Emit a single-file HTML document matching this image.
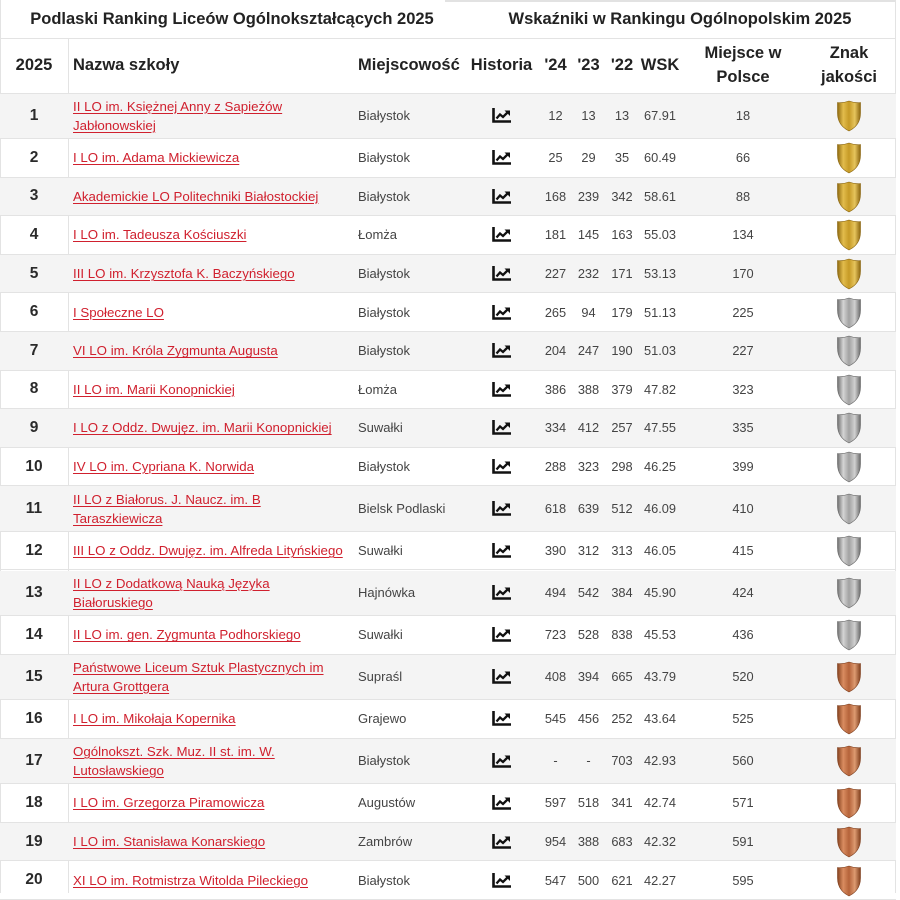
<!DOCTYPE html>
<html lang="pl">
<head>
<meta charset="utf-8">
<style>
  html,body{margin:0;padding:0;background:#fff;}
  body{width:900px;height:893px;position:relative;overflow:hidden;font-family:"Liberation Sans",Arial,sans-serif;color:#333;}
  .t{position:absolute;top:0;height:38px;display:flex;align-items:center;justify-content:center;font-weight:bold;font-size:16.5px;color:#222;white-space:nowrap;}
  .line-h{position:absolute;left:0;width:896px;height:1px;background:#e3e3e3;}
  .line-v{position:absolute;width:1px;background:#e3e3e3;}
  .r{position:absolute;left:0;width:896px;box-sizing:border-box;border-bottom:1px solid #e3e3e3;}
  .r.o{background:#f4f4f4;}
  .c{position:absolute;top:0;bottom:0;display:flex;align-items:center;justify-content:center;white-space:nowrap;}
  .rk{left:0;width:68px;font-weight:bold;font-size:15.5px;color:#2a2a2a;}
  .nm{left:73px;width:280px;justify-content:flex-start;font-size:13.3px;line-height:19px;}
  .nm span{color:#d0202e;text-decoration:underline;text-decoration-thickness:1px;text-underline-offset:2px;}
  .ct{left:358px;width:100px;justify-content:flex-start;font-size:13px;color:#444;}
  .hi{left:462px;width:79px;}
  .n{font-size:12.8px;color:#444;}
  .c24{left:540px;width:31px;}
  .c23{left:571px;width:35px;}
  .c22{left:606px;width:32px;}
  .wsk{left:638px;width:44px;}
  .pl{left:682px;width:122px;}
  .zn{left:804px;width:90px;}
  .hd{font-weight:bold;font-size:16.5px;color:#222;text-align:center;line-height:24px;}
</style>
</head>
<body>
<svg width="0" height="0" style="position:absolute">
  <defs>
    <linearGradient id="gg" x1="0" y1="0" x2="1" y2="0">
      <stop offset="0" stop-color="#8f6a10"/>
      <stop offset="0.25" stop-color="#e2bc4c"/>
      <stop offset="0.5" stop-color="#c69a26"/>
      <stop offset="0.75" stop-color="#e6c45c"/>
      <stop offset="1" stop-color="#8a650f"/>
    </linearGradient>
    <linearGradient id="gs" x1="0" y1="0" x2="1" y2="0">
      <stop offset="0" stop-color="#6e6e6e"/>
      <stop offset="0.25" stop-color="#d4d4d4"/>
      <stop offset="0.5" stop-color="#a2a2a2"/>
      <stop offset="0.75" stop-color="#d0d0d0"/>
      <stop offset="1" stop-color="#696969"/>
    </linearGradient>
    <linearGradient id="gb" x1="0" y1="0" x2="1" y2="0">
      <stop offset="0" stop-color="#86421f"/>
      <stop offset="0.25" stop-color="#d98c60"/>
      <stop offset="0.5" stop-color="#b5633a"/>
      <stop offset="0.75" stop-color="#dd9a70"/>
      <stop offset="1" stop-color="#7f3f1e"/>
    </linearGradient>
  </defs>
</svg>

<!-- top strip -->
<div style="position:absolute;left:445px;top:0;width:451px;height:2px;background:#e2e2e2;"></div>

<div class="t" style="left:0;width:464px;">Podlaski Ranking Liceów Ogólnokształcących 2025</div>
<div class="t" style="left:464px;width:432px;">Wskaźniki w Rankingu Ogólnopolskim 2025</div>

<!-- frame lines -->
<div class="line-h" style="top:38px;"></div>
<div class="line-v" style="left:0;top:0;height:893px;"></div>
<div class="line-v" style="left:895px;top:0;height:893px;"></div>
<div class="line-v" style="left:68px;top:38px;height:855px;"></div>

<!-- header row -->
<div class="r" style="top:38px;height:55.5px;">
  <div class="c hd" style="left:0;width:68px;">2025</div>
  <div class="c hd" style="left:73px;width:280px;justify-content:flex-start;">Nazwa szkoły</div>
  <div class="c hd" style="left:358px;width:104px;justify-content:flex-start;">Miejscowość</div>
  <div class="c hd hi">Historia</div>
  <div class="c hd c24">'24</div>
  <div class="c hd c23">'23</div>
  <div class="c hd c22">'22</div>
  <div class="c hd wsk">WSK</div>
  <div class="c hd pl">Miejsce w<br>Polsce</div>
  <div class="c hd zn">Znak<br>jakości</div>
</div>

<!-- rows -->
<div class="r o" style="top:93.5px;height:45.5px;">
  <div class="c rk">1</div>
  <div class="c nm"><span>II LO im. Księżnej Anny z Sapieżów<br>Jabłonowskiej</span></div>
  <div class="c ct">Białystok</div>
  <div class="c hi"><svg width="19" height="15" viewBox="0 0 19 15"><path d="M1.5 0V13.5H19" fill="none" stroke="#111" stroke-width="2.6"/><path d="M4.5 10.5L8 6.5l3 2.5 4.5-4.5" fill="none" stroke="#111" stroke-width="2.3"/><path d="M12.5 2.5h5.5v5.5z" fill="#111"/></svg></div>
  <div class="c n c24">12</div><div class="c n c23">13</div><div class="c n c22">13</div><div class="c n wsk">67.91</div>
  <div class="c n pl">18</div>
  <div class="c zn"><svg width="26" height="33" viewBox="0 0 26 33"><path d="M13 2C9 3.5 5 4 1.5 3.5V14C1.5 22.5 6 28.5 13 32C20 28.5 24.5 22.5 24.5 14V3.5C21 4 17 3.5 13 2Z" fill="url(#gg)" stroke="#8a650f" stroke-width="0.6"/></svg></div>
</div>

<div class="r" style="top:139px;height:38.6px;">
  <div class="c rk">2</div>
  <div class="c nm"><span>I LO im. Adama Mickiewicza</span></div>
  <div class="c ct">Białystok</div>
  <div class="c hi"><svg width="19" height="15" viewBox="0 0 19 15"><path d="M1.5 0V13.5H19" fill="none" stroke="#111" stroke-width="2.6"/><path d="M4.5 10.5L8 6.5l3 2.5 4.5-4.5" fill="none" stroke="#111" stroke-width="2.3"/><path d="M12.5 2.5h5.5v5.5z" fill="#111"/></svg></div>
  <div class="c n c24">25</div><div class="c n c23">29</div><div class="c n c22">35</div><div class="c n wsk">60.49</div>
  <div class="c n pl">66</div>
  <div class="c zn"><svg width="26" height="33" viewBox="0 0 26 33"><path d="M13 2C9 3.5 5 4 1.5 3.5V14C1.5 22.5 6 28.5 13 32C20 28.5 24.5 22.5 24.5 14V3.5C21 4 17 3.5 13 2Z" fill="url(#gg)" stroke="#8a650f" stroke-width="0.6"/></svg></div>
</div>

<div class="r o" style="top:177.6px;height:38.6px;">
  <div class="c rk">3</div>
  <div class="c nm"><span>Akademickie LO Politechniki Białostockiej</span></div>
  <div class="c ct">Białystok</div>
  <div class="c hi"><svg width="19" height="15" viewBox="0 0 19 15"><path d="M1.5 0V13.5H19" fill="none" stroke="#111" stroke-width="2.6"/><path d="M4.5 10.5L8 6.5l3 2.5 4.5-4.5" fill="none" stroke="#111" stroke-width="2.3"/><path d="M12.5 2.5h5.5v5.5z" fill="#111"/></svg></div>
  <div class="c n c24">168</div><div class="c n c23">239</div><div class="c n c22">342</div><div class="c n wsk">58.61</div>
  <div class="c n pl">88</div>
  <div class="c zn"><svg width="26" height="33" viewBox="0 0 26 33"><path d="M13 2C9 3.5 5 4 1.5 3.5V14C1.5 22.5 6 28.5 13 32C20 28.5 24.5 22.5 24.5 14V3.5C21 4 17 3.5 13 2Z" fill="url(#gg)" stroke="#8a650f" stroke-width="0.6"/></svg></div>
</div>

<div class="r" style="top:216.2px;height:38.6px;">
  <div class="c rk">4</div>
  <div class="c nm"><span>I LO im. Tadeusza Kościuszki</span></div>
  <div class="c ct">Łomża</div>
  <div class="c hi"><svg width="19" height="15" viewBox="0 0 19 15"><path d="M1.5 0V13.5H19" fill="none" stroke="#111" stroke-width="2.6"/><path d="M4.5 10.5L8 6.5l3 2.5 4.5-4.5" fill="none" stroke="#111" stroke-width="2.3"/><path d="M12.5 2.5h5.5v5.5z" fill="#111"/></svg></div>
  <div class="c n c24">181</div><div class="c n c23">145</div><div class="c n c22">163</div><div class="c n wsk">55.03</div>
  <div class="c n pl">134</div>
  <div class="c zn"><svg width="26" height="33" viewBox="0 0 26 33"><path d="M13 2C9 3.5 5 4 1.5 3.5V14C1.5 22.5 6 28.5 13 32C20 28.5 24.5 22.5 24.5 14V3.5C21 4 17 3.5 13 2Z" fill="url(#gg)" stroke="#8a650f" stroke-width="0.6"/></svg></div>
</div>

<div class="r o" style="top:254.8px;height:38.6px;">
  <div class="c rk">5</div>
  <div class="c nm"><span>III LO im. Krzysztofa K. Baczyńskiego</span></div>
  <div class="c ct">Białystok</div>
  <div class="c hi"><svg width="19" height="15" viewBox="0 0 19 15"><path d="M1.5 0V13.5H19" fill="none" stroke="#111" stroke-width="2.6"/><path d="M4.5 10.5L8 6.5l3 2.5 4.5-4.5" fill="none" stroke="#111" stroke-width="2.3"/><path d="M12.5 2.5h5.5v5.5z" fill="#111"/></svg></div>
  <div class="c n c24">227</div><div class="c n c23">232</div><div class="c n c22">171</div><div class="c n wsk">53.13</div>
  <div class="c n pl">170</div>
  <div class="c zn"><svg width="26" height="33" viewBox="0 0 26 33"><path d="M13 2C9 3.5 5 4 1.5 3.5V14C1.5 22.5 6 28.5 13 32C20 28.5 24.5 22.5 24.5 14V3.5C21 4 17 3.5 13 2Z" fill="url(#gg)" stroke="#8a650f" stroke-width="0.6"/></svg></div>
</div>

<div class="r" style="top:293.4px;height:38.6px;">
  <div class="c rk">6</div>
  <div class="c nm"><span>I Społeczne LO</span></div>
  <div class="c ct">Białystok</div>
  <div class="c hi"><svg width="19" height="15" viewBox="0 0 19 15"><path d="M1.5 0V13.5H19" fill="none" stroke="#111" stroke-width="2.6"/><path d="M4.5 10.5L8 6.5l3 2.5 4.5-4.5" fill="none" stroke="#111" stroke-width="2.3"/><path d="M12.5 2.5h5.5v5.5z" fill="#111"/></svg></div>
  <div class="c n c24">265</div><div class="c n c23">94</div><div class="c n c22">179</div><div class="c n wsk">51.13</div>
  <div class="c n pl">225</div>
  <div class="c zn"><svg width="26" height="33" viewBox="0 0 26 33"><path d="M13 2C9 3.5 5 4 1.5 3.5V14C1.5 22.5 6 28.5 13 32C20 28.5 24.5 22.5 24.5 14V3.5C21 4 17 3.5 13 2Z" fill="url(#gs)" stroke="#666" stroke-width="0.6"/></svg></div>
</div>

<div class="r o" style="top:332px;height:38.6px;">
  <div class="c rk">7</div>
  <div class="c nm"><span>VI LO im. Króla Zygmunta Augusta</span></div>
  <div class="c ct">Białystok</div>
  <div class="c hi"><svg width="19" height="15" viewBox="0 0 19 15"><path d="M1.5 0V13.5H19" fill="none" stroke="#111" stroke-width="2.6"/><path d="M4.5 10.5L8 6.5l3 2.5 4.5-4.5" fill="none" stroke="#111" stroke-width="2.3"/><path d="M12.5 2.5h5.5v5.5z" fill="#111"/></svg></div>
  <div class="c n c24">204</div><div class="c n c23">247</div><div class="c n c22">190</div><div class="c n wsk">51.03</div>
  <div class="c n pl">227</div>
  <div class="c zn"><svg width="26" height="33" viewBox="0 0 26 33"><path d="M13 2C9 3.5 5 4 1.5 3.5V14C1.5 22.5 6 28.5 13 32C20 28.5 24.5 22.5 24.5 14V3.5C21 4 17 3.5 13 2Z" fill="url(#gs)" stroke="#666" stroke-width="0.6"/></svg></div>
</div>

<div class="r" style="top:370.6px;height:38.6px;">
  <div class="c rk">8</div>
  <div class="c nm"><span>II LO im. Marii Konopnickiej</span></div>
  <div class="c ct">Łomża</div>
  <div class="c hi"><svg width="19" height="15" viewBox="0 0 19 15"><path d="M1.5 0V13.5H19" fill="none" stroke="#111" stroke-width="2.6"/><path d="M4.5 10.5L8 6.5l3 2.5 4.5-4.5" fill="none" stroke="#111" stroke-width="2.3"/><path d="M12.5 2.5h5.5v5.5z" fill="#111"/></svg></div>
  <div class="c n c24">386</div><div class="c n c23">388</div><div class="c n c22">379</div><div class="c n wsk">47.82</div>
  <div class="c n pl">323</div>
  <div class="c zn"><svg width="26" height="33" viewBox="0 0 26 33"><path d="M13 2C9 3.5 5 4 1.5 3.5V14C1.5 22.5 6 28.5 13 32C20 28.5 24.5 22.5 24.5 14V3.5C21 4 17 3.5 13 2Z" fill="url(#gs)" stroke="#666" stroke-width="0.6"/></svg></div>
</div>

<div class="r o" style="top:409.2px;height:38.6px;">
  <div class="c rk">9</div>
  <div class="c nm"><span>I LO z Oddz. Dwujęz. im. Marii Konopnickiej</span></div>
  <div class="c ct">Suwałki</div>
  <div class="c hi"><svg width="19" height="15" viewBox="0 0 19 15"><path d="M1.5 0V13.5H19" fill="none" stroke="#111" stroke-width="2.6"/><path d="M4.5 10.5L8 6.5l3 2.5 4.5-4.5" fill="none" stroke="#111" stroke-width="2.3"/><path d="M12.5 2.5h5.5v5.5z" fill="#111"/></svg></div>
  <div class="c n c24">334</div><div class="c n c23">412</div><div class="c n c22">257</div><div class="c n wsk">47.55</div>
  <div class="c n pl">335</div>
  <div class="c zn"><svg width="26" height="33" viewBox="0 0 26 33"><path d="M13 2C9 3.5 5 4 1.5 3.5V14C1.5 22.5 6 28.5 13 32C20 28.5 24.5 22.5 24.5 14V3.5C21 4 17 3.5 13 2Z" fill="url(#gs)" stroke="#666" stroke-width="0.6"/></svg></div>
</div>

<div class="r" style="top:447.8px;height:38.6px;">
  <div class="c rk">10</div>
  <div class="c nm"><span>IV LO im. Cypriana K. Norwida</span></div>
  <div class="c ct">Białystok</div>
  <div class="c hi"><svg width="19" height="15" viewBox="0 0 19 15"><path d="M1.5 0V13.5H19" fill="none" stroke="#111" stroke-width="2.6"/><path d="M4.5 10.5L8 6.5l3 2.5 4.5-4.5" fill="none" stroke="#111" stroke-width="2.3"/><path d="M12.5 2.5h5.5v5.5z" fill="#111"/></svg></div>
  <div class="c n c24">288</div><div class="c n c23">323</div><div class="c n c22">298</div><div class="c n wsk">46.25</div>
  <div class="c n pl">399</div>
  <div class="c zn"><svg width="26" height="33" viewBox="0 0 26 33"><path d="M13 2C9 3.5 5 4 1.5 3.5V14C1.5 22.5 6 28.5 13 32C20 28.5 24.5 22.5 24.5 14V3.5C21 4 17 3.5 13 2Z" fill="url(#gs)" stroke="#666" stroke-width="0.6"/></svg></div>
</div>

<div class="r o" style="top:486.4px;height:45.5px;">
  <div class="c rk">11</div>
  <div class="c nm"><span>II LO z Białorus. J. Naucz. im. B<br>Taraszkiewicza</span></div>
  <div class="c ct">Bielsk Podlaski</div>
  <div class="c hi"><svg width="19" height="15" viewBox="0 0 19 15"><path d="M1.5 0V13.5H19" fill="none" stroke="#111" stroke-width="2.6"/><path d="M4.5 10.5L8 6.5l3 2.5 4.5-4.5" fill="none" stroke="#111" stroke-width="2.3"/><path d="M12.5 2.5h5.5v5.5z" fill="#111"/></svg></div>
  <div class="c n c24">618</div><div class="c n c23">639</div><div class="c n c22">512</div><div class="c n wsk">46.09</div>
  <div class="c n pl">410</div>
  <div class="c zn"><svg width="26" height="33" viewBox="0 0 26 33"><path d="M13 2C9 3.5 5 4 1.5 3.5V14C1.5 22.5 6 28.5 13 32C20 28.5 24.5 22.5 24.5 14V3.5C21 4 17 3.5 13 2Z" fill="url(#gs)" stroke="#666" stroke-width="0.6"/></svg></div>
</div>

<div class="r" style="top:531.9px;height:38.6px;">
  <div class="c rk">12</div>
  <div class="c nm"><span>III LO z Oddz. Dwujęz. im. Alfreda Lityńskiego</span></div>
  <div class="c ct">Suwałki</div>
  <div class="c hi"><svg width="19" height="15" viewBox="0 0 19 15"><path d="M1.5 0V13.5H19" fill="none" stroke="#111" stroke-width="2.6"/><path d="M4.5 10.5L8 6.5l3 2.5 4.5-4.5" fill="none" stroke="#111" stroke-width="2.3"/><path d="M12.5 2.5h5.5v5.5z" fill="#111"/></svg></div>
  <div class="c n c24">390</div><div class="c n c23">312</div><div class="c n c22">313</div><div class="c n wsk">46.05</div>
  <div class="c n pl">415</div>
  <div class="c zn"><svg width="26" height="33" viewBox="0 0 26 33"><path d="M13 2C9 3.5 5 4 1.5 3.5V14C1.5 22.5 6 28.5 13 32C20 28.5 24.5 22.5 24.5 14V3.5C21 4 17 3.5 13 2Z" fill="url(#gs)" stroke="#666" stroke-width="0.6"/></svg></div>
</div>

<div class="r o" style="top:570.5px;height:45.5px;">
  <div class="c rk">13</div>
  <div class="c nm"><span>II LO z Dodatkową Nauką Języka<br>Białoruskiego</span></div>
  <div class="c ct">Hajnówka</div>
  <div class="c hi"><svg width="19" height="15" viewBox="0 0 19 15"><path d="M1.5 0V13.5H19" fill="none" stroke="#111" stroke-width="2.6"/><path d="M4.5 10.5L8 6.5l3 2.5 4.5-4.5" fill="none" stroke="#111" stroke-width="2.3"/><path d="M12.5 2.5h5.5v5.5z" fill="#111"/></svg></div>
  <div class="c n c24">494</div><div class="c n c23">542</div><div class="c n c22">384</div><div class="c n wsk">45.90</div>
  <div class="c n pl">424</div>
  <div class="c zn"><svg width="26" height="33" viewBox="0 0 26 33"><path d="M13 2C9 3.5 5 4 1.5 3.5V14C1.5 22.5 6 28.5 13 32C20 28.5 24.5 22.5 24.5 14V3.5C21 4 17 3.5 13 2Z" fill="url(#gs)" stroke="#666" stroke-width="0.6"/></svg></div>
</div>

<div class="r" style="top:616px;height:38.6px;">
  <div class="c rk">14</div>
  <div class="c nm"><span>II LO im. gen. Zygmunta Podhorskiego</span></div>
  <div class="c ct">Suwałki</div>
  <div class="c hi"><svg width="19" height="15" viewBox="0 0 19 15"><path d="M1.5 0V13.5H19" fill="none" stroke="#111" stroke-width="2.6"/><path d="M4.5 10.5L8 6.5l3 2.5 4.5-4.5" fill="none" stroke="#111" stroke-width="2.3"/><path d="M12.5 2.5h5.5v5.5z" fill="#111"/></svg></div>
  <div class="c n c24">723</div><div class="c n c23">528</div><div class="c n c22">838</div><div class="c n wsk">45.53</div>
  <div class="c n pl">436</div>
  <div class="c zn"><svg width="26" height="33" viewBox="0 0 26 33"><path d="M13 2C9 3.5 5 4 1.5 3.5V14C1.5 22.5 6 28.5 13 32C20 28.5 24.5 22.5 24.5 14V3.5C21 4 17 3.5 13 2Z" fill="url(#gs)" stroke="#666" stroke-width="0.6"/></svg></div>
</div>

<div class="r o" style="top:654.6px;height:45.5px;">
  <div class="c rk">15</div>
  <div class="c nm"><span>Państwowe Liceum Sztuk Plastycznych im<br>Artura Grottgera</span></div>
  <div class="c ct">Supraśl</div>
  <div class="c hi"><svg width="19" height="15" viewBox="0 0 19 15"><path d="M1.5 0V13.5H19" fill="none" stroke="#111" stroke-width="2.6"/><path d="M4.5 10.5L8 6.5l3 2.5 4.5-4.5" fill="none" stroke="#111" stroke-width="2.3"/><path d="M12.5 2.5h5.5v5.5z" fill="#111"/></svg></div>
  <div class="c n c24">408</div><div class="c n c23">394</div><div class="c n c22">665</div><div class="c n wsk">43.79</div>
  <div class="c n pl">520</div>
  <div class="c zn"><svg width="26" height="33" viewBox="0 0 26 33"><path d="M13 2C9 3.5 5 4 1.5 3.5V14C1.5 22.5 6 28.5 13 32C20 28.5 24.5 22.5 24.5 14V3.5C21 4 17 3.5 13 2Z" fill="url(#gb)" stroke="#7f3f1e" stroke-width="0.6"/></svg></div>
</div>

<div class="r" style="top:700.1px;height:38.6px;">
  <div class="c rk">16</div>
  <div class="c nm"><span>I LO im. Mikołaja Kopernika</span></div>
  <div class="c ct">Grajewo</div>
  <div class="c hi"><svg width="19" height="15" viewBox="0 0 19 15"><path d="M1.5 0V13.5H19" fill="none" stroke="#111" stroke-width="2.6"/><path d="M4.5 10.5L8 6.5l3 2.5 4.5-4.5" fill="none" stroke="#111" stroke-width="2.3"/><path d="M12.5 2.5h5.5v5.5z" fill="#111"/></svg></div>
  <div class="c n c24">545</div><div class="c n c23">456</div><div class="c n c22">252</div><div class="c n wsk">43.64</div>
  <div class="c n pl">525</div>
  <div class="c zn"><svg width="26" height="33" viewBox="0 0 26 33"><path d="M13 2C9 3.5 5 4 1.5 3.5V14C1.5 22.5 6 28.5 13 32C20 28.5 24.5 22.5 24.5 14V3.5C21 4 17 3.5 13 2Z" fill="url(#gb)" stroke="#7f3f1e" stroke-width="0.6"/></svg></div>
</div>

<div class="r o" style="top:738.7px;height:45.5px;">
  <div class="c rk">17</div>
  <div class="c nm"><span>Ogólnokszt. Szk. Muz. II st. im. W.<br>Lutosławskiego</span></div>
  <div class="c ct">Białystok</div>
  <div class="c hi"><svg width="19" height="15" viewBox="0 0 19 15"><path d="M1.5 0V13.5H19" fill="none" stroke="#111" stroke-width="2.6"/><path d="M4.5 10.5L8 6.5l3 2.5 4.5-4.5" fill="none" stroke="#111" stroke-width="2.3"/><path d="M12.5 2.5h5.5v5.5z" fill="#111"/></svg></div>
  <div class="c n c24">-</div><div class="c n c23">-</div><div class="c n c22">703</div><div class="c n wsk">42.93</div>
  <div class="c n pl">560</div>
  <div class="c zn"><svg width="26" height="33" viewBox="0 0 26 33"><path d="M13 2C9 3.5 5 4 1.5 3.5V14C1.5 22.5 6 28.5 13 32C20 28.5 24.5 22.5 24.5 14V3.5C21 4 17 3.5 13 2Z" fill="url(#gb)" stroke="#7f3f1e" stroke-width="0.6"/></svg></div>
</div>

<div class="r" style="top:784.2px;height:38.6px;">
  <div class="c rk">18</div>
  <div class="c nm"><span>I LO im. Grzegorza Piramowicza</span></div>
  <div class="c ct">Augustów</div>
  <div class="c hi"><svg width="19" height="15" viewBox="0 0 19 15"><path d="M1.5 0V13.5H19" fill="none" stroke="#111" stroke-width="2.6"/><path d="M4.5 10.5L8 6.5l3 2.5 4.5-4.5" fill="none" stroke="#111" stroke-width="2.3"/><path d="M12.5 2.5h5.5v5.5z" fill="#111"/></svg></div>
  <div class="c n c24">597</div><div class="c n c23">518</div><div class="c n c22">341</div><div class="c n wsk">42.74</div>
  <div class="c n pl">571</div>
  <div class="c zn"><svg width="26" height="33" viewBox="0 0 26 33"><path d="M13 2C9 3.5 5 4 1.5 3.5V14C1.5 22.5 6 28.5 13 32C20 28.5 24.5 22.5 24.5 14V3.5C21 4 17 3.5 13 2Z" fill="url(#gb)" stroke="#7f3f1e" stroke-width="0.6"/></svg></div>
</div>

<div class="r o" style="top:822.8px;height:38.6px;">
  <div class="c rk">19</div>
  <div class="c nm"><span>I LO im. Stanisława Konarskiego</span></div>
  <div class="c ct">Zambrów</div>
  <div class="c hi"><svg width="19" height="15" viewBox="0 0 19 15"><path d="M1.5 0V13.5H19" fill="none" stroke="#111" stroke-width="2.6"/><path d="M4.5 10.5L8 6.5l3 2.5 4.5-4.5" fill="none" stroke="#111" stroke-width="2.3"/><path d="M12.5 2.5h5.5v5.5z" fill="#111"/></svg></div>
  <div class="c n c24">954</div><div class="c n c23">388</div><div class="c n c22">683</div><div class="c n wsk">42.32</div>
  <div class="c n pl">591</div>
  <div class="c zn"><svg width="26" height="33" viewBox="0 0 26 33"><path d="M13 2C9 3.5 5 4 1.5 3.5V14C1.5 22.5 6 28.5 13 32C20 28.5 24.5 22.5 24.5 14V3.5C21 4 17 3.5 13 2Z" fill="url(#gb)" stroke="#7f3f1e" stroke-width="0.6"/></svg></div>
</div>

<div class="r" style="top:861.4px;height:38.6px;">
  <div class="c rk">20</div>
  <div class="c nm"><span>XI LO im. Rotmistrza Witolda Pileckiego</span></div>
  <div class="c ct">Białystok</div>
  <div class="c hi"><svg width="19" height="15" viewBox="0 0 19 15"><path d="M1.5 0V13.5H19" fill="none" stroke="#111" stroke-width="2.6"/><path d="M4.5 10.5L8 6.5l3 2.5 4.5-4.5" fill="none" stroke="#111" stroke-width="2.3"/><path d="M12.5 2.5h5.5v5.5z" fill="#111"/></svg></div>
  <div class="c n c24">547</div><div class="c n c23">500</div><div class="c n c22">621</div><div class="c n wsk">42.27</div>
  <div class="c n pl">595</div>
  <div class="c zn"><svg width="26" height="33" viewBox="0 0 26 33"><path d="M13 2C9 3.5 5 4 1.5 3.5V14C1.5 22.5 6 28.5 13 32C20 28.5 24.5 22.5 24.5 14V3.5C21 4 17 3.5 13 2Z" fill="url(#gb)" stroke="#7f3f1e" stroke-width="0.6"/></svg></div>
</div>

</body>
</html>
